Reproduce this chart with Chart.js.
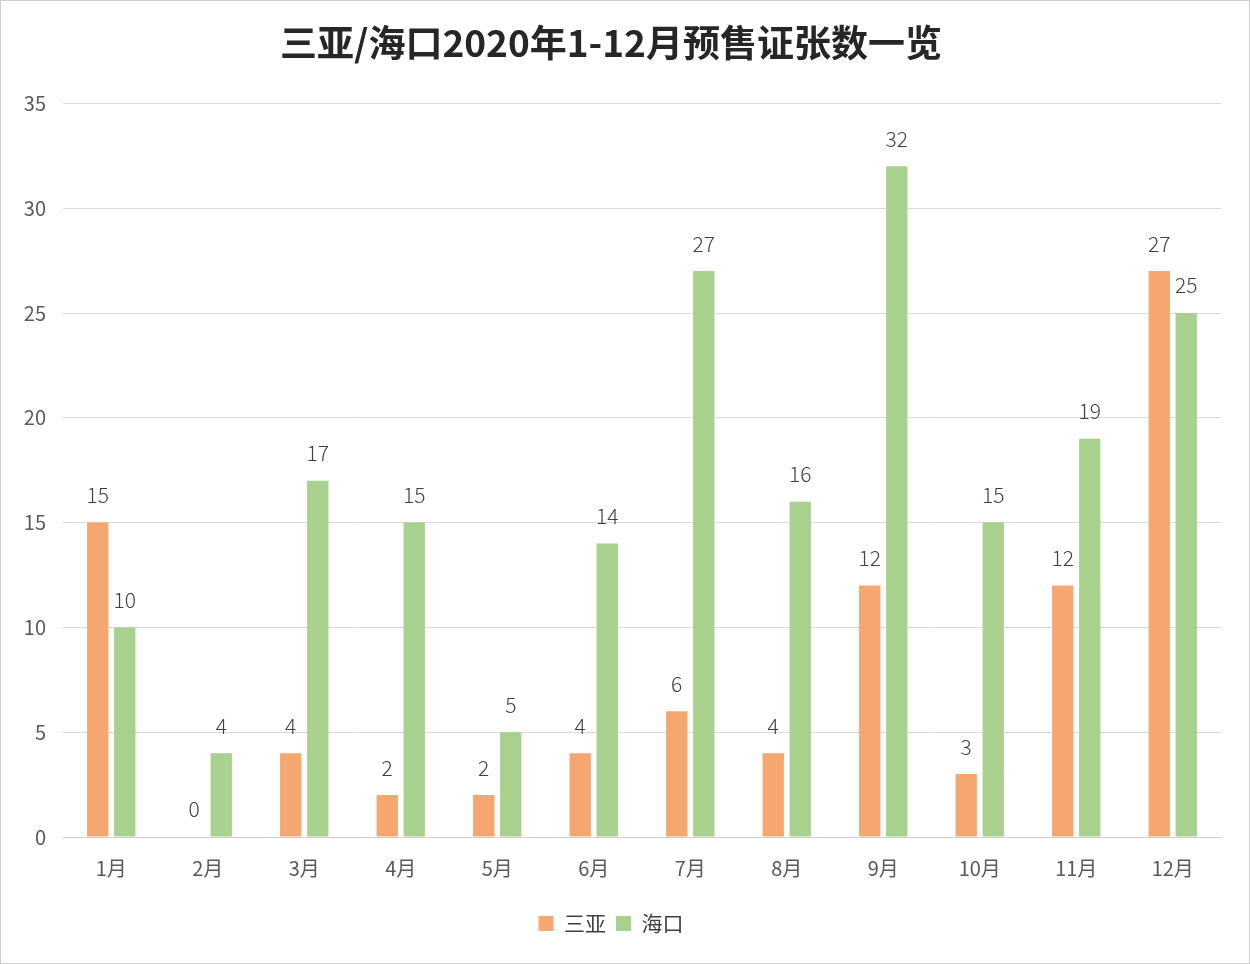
<!DOCTYPE html>
<html>
<head>
<meta charset="utf-8">
<script src="https://cdn.jsdelivr.net/npm/chart.js@4/dist/chart.umd.min.js"></script>
<style>
  html, body { margin: 0; padding: 0; background: #fff; }
  #wrap { width: 1248px; height: 962px; border: 1px solid #cfcfcf; }
</style>
</head>
<body>
<div id="wrap"><canvas id="presaleChart" width="1248" height="962"></canvas></div>
<script>
const months = ['1月', '2月', '3月', '4月', '5月', '6月', '7月', '8月', '9月', '10月', '11月', '12月'];
const sanya = [15, 0, 4, 2, 2, 4, 6, 4, 12, 3, 12, 27];
const haikou = [10, 4, 17, 15, 5, 14, 27, 16, 32, 15, 19, 25];

const fontFamily = '"Noto Sans CJK SC", "Noto Sans", sans-serif';

// draws the number above each bar
const barValues = {
    id: 'barValues',
    afterDatasetsDraw(chart) {
        const ctx = chart.ctx;
        ctx.save();
        ctx.font = '300 21px ' + fontFamily;
        ctx.fillStyle = '#404040';
        ctx.textAlign = 'center';
        ctx.textBaseline = 'bottom';
        chart.data.datasets.forEach((ds, i) => {
            chart.getDatasetMeta(i).data.forEach((bar, j) => {
                ctx.fillText(ds.data[j], bar.x, bar.y - 17);
            });
        });
        ctx.restore();
    }
};

const ctx = document.getElementById('presaleChart').getContext('2d');
const presaleChart = new Chart(ctx, {
    type: 'bar',
    data: {
        labels: months,
        datasets: [
            {
                label: '三亚',
                data: sanya,
                backgroundColor: '#F6A66F',
                categoryPercentage: 0.56,
                barPercentage: 0.79
            },
            {
                label: '海口',
                data: haikou,
                backgroundColor: '#A9D18E',
                categoryPercentage: 0.56,
                barPercentage: 0.79
            }
        ]
    },
    options: {
        responsive: false,
        animation: false,
        layout: { padding: { left: 0, right: 28, top: 0, bottom: 19 } },
        plugins: {
            title: {
                display: true,
                text: '三亚/海口2020年1-12月预售证张数一览',
                color: '#262626',
                font: { family: fontFamily, size: 37, weight: 'bold' },
                padding: { top: 20, bottom: 38 }
            },
            legend: {
                position: 'bottom',
                labels: {
                    color: '#404040',
                    font: { family: fontFamily, size: 21 },
                    boxWidth: 15,
                    boxHeight: 15,
                    padding: 10
                }
            },
            tooltip: { enabled: false }
        },
        scales: {
            x: {
                afterFit(scale) { scale.height += 12; },
                grid: { display: false },
                border: { color: '#d0d0d0' },
                ticks: {
                    color: '#595959',
                    font: { family: fontFamily, size: 20 },
                    padding: 11
                }
            },
            y: {
                min: 0,
                max: 35,
                afterFit(scale) { scale.width = 62; },
                grid: { color: '#d9d9d9', drawTicks: false },
                border: { display: false },
                ticks: {
                    stepSize: 5,
                    color: '#595959',
                    font: { family: fontFamily, size: 20 },
                    padding: 17
                }
            }
        }
    },
    plugins: [barValues]
});
</script>
</body>
</html>
